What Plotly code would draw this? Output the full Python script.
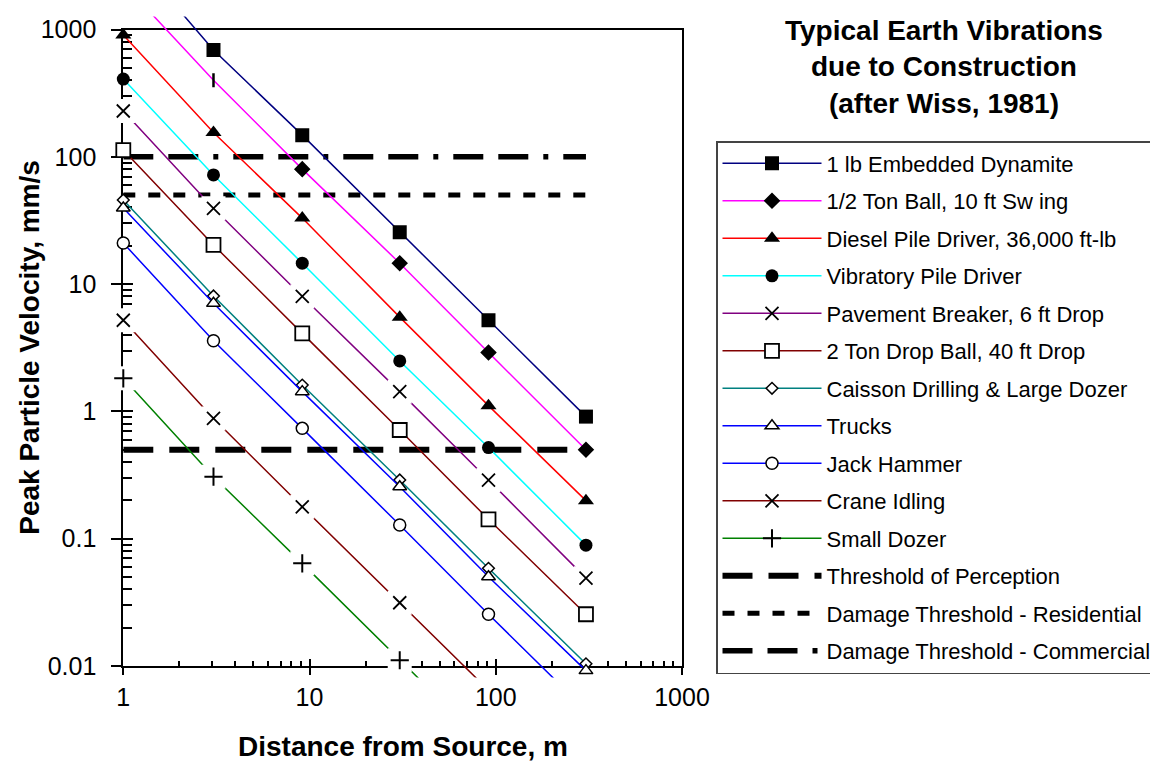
import plotly.graph_objects as go

# ---------------- data ----------------
x_m = [1, 3.05, 9.14, 30.5, 91.4, 305]

v_dynamite = [4600, 690, 148, 25.6, 5.2, 0.91]
v_half_ton = [2300, 400, 80, 14.6, 2.9, 0.5]
v_diesel = [906, 155, 33, 5.5, 1.11, 0.199]
v_vibratory = [408, 72, 14.6, 2.49, 0.52, 0.089]
v_pavement = [229, 39.4, 8.0, 1.43, 0.289, 0.049]
v_two_ton = [113, 20.3, 4.1, 0.714, 0.142, 0.0255]
v_caisson = [45.8, 8.07, 1.61, 0.289, 0.0585, 0.0104]
v_trucks = [39.6, 7.06, 1.43, 0.256, 0.0503, 0.0092]
v_jack = [21, 3.59, 0.736, 0.128, 0.0255, 0.0045]
v_crane = [5.2, 0.88, 0.178, 0.0314, 0.0065, 0.00114]
v_dozer = [1.82, 0.307, 0.064, 0.0111, 0.00224, 0.0004]

series_names = [
    "1 lb Embedded Dynamite",
    "1/2 Ton Ball, 10 ft Sw ing",
    "Diesel Pile Driver, 36,000 ft-lb",
    "Vibratory Pile Driver",
    "Pavement Breaker, 6 ft Drop",
    "2 Ton Drop Ball, 40 ft Drop",
    "Caisson Drilling & Large Dozer",
    "Trucks",
    "Jack Hammer",
    "Crane Idling",
    "Small Dozer",
]
series_values = [v_dynamite, v_half_ton, v_diesel, v_vibratory, v_pavement,
                 v_two_ton, v_caisson, v_trucks, v_jack, v_crane, v_dozer]

threshold_names = ["Threshold of Perception",
                   "Damage Threshold - Residential",
                   "Damage Threshold - Commercial"]
threshold_values = [0.5, 50, 100]
threshold_x = [1, 305]

x_tick_vals = [1, 10, 100, 1000]
x_tick_text = ["1", "10", "100", "1000"]
y_tick_vals = [0.01, 0.1, 1, 10, 100, 1000]
y_tick_text = ["0.01", "0.1", "1", "10", "100", "1000"]

# ---------------- styles ----------------
W, H = 1158, 761
OFF = 8  # page body margin
FONT = "Arial, Liberation Sans, sans-serif"

line_colors = ["#000080", "#FF00FF", "#FF0000", "#00FFFF", "#800080", "#800000",
               "#008080", "#0000FF", "#0000FF", "#800000", "#008000"]
sym = ["square", ["diamond", "line-ns", "diamond", "diamond", "diamond", "diamond"],
       "triangle-up", "circle", "x-thin", "square", "diamond", "triangle-up",
       "circle", "x-thin", "cross-thin"]
fill = ["black", "black", "black", "black", "black", "white", "white", "white",
        "white", "black", "black"]
msize = [14, 10, 14, 13, 13, 14, 9, 12, 12, 13, 13]
mlw = [0, 2.5, 0, 0, 1.8, 1.8, 1.5, 1.5, 1.5, 1.8, 2]
knockout = [False, False, False, False, True, False, False, False, False, True, True]

th_dash = ["30px,16px", "12px,13px", "30px,15px,30px,15px,5px,15px"]
th_width = [6, 5, 5.5]


def px_x(p):
    return (p - OFF) / W


def px_y(p):
    return 1 - (p - OFF) / H


# visible axes frame (target screenshot pixels)
X0, X1 = 123.3, 682.0     # x = 1 .. 1000
YT, YB = 29.5, 666.0      # y = 1000 .. 0.01
dec_x = (X1 - X0) / 3
dec_y = (YB - YT) / 5
# data clip region (pixels)
CX0, CX1 = 105.0, 700.0
CYT, CYB = 16.5, 677.5

fig = go.Figure()

# series
for i, (name, vals) in enumerate(zip(series_names, series_values)):
    mk = dict(symbol=sym[i], size=msize[i], color=fill[i],
              line=dict(color="black", width=mlw[i]))
    fig.add_trace(go.Scatter(
        x=x_m, y=vals, mode="lines+markers", name=name, legendgroup=name,
        xaxis="x2", yaxis="y2", line=dict(color=line_colors[i], width=1.5),
        marker=mk, hoverinfo="skip"))

# white knock-out boxes behind x / + markers, then redraw markers
for i, (name, vals) in enumerate(zip(series_names, series_values)):
    if knockout[i]:
        fig.add_trace(go.Scatter(
            x=x_m, y=vals, mode="markers", legendgroup=name, showlegend=False,
            xaxis="x2", yaxis="y2", hoverinfo="skip",
            marker=dict(symbol="square", size=24, color="white", line=dict(width=0))))
        fig.add_trace(go.Scatter(
            x=x_m, y=vals, mode="markers", legendgroup=name, showlegend=False,
            xaxis="x2", yaxis="y2", hoverinfo="skip",
            marker=dict(symbol=sym[i], size=msize[i], color=fill[i],
                        line=dict(color="black", width=mlw[i]))))

for name, val, dash, w in zip(threshold_names, threshold_values, th_dash, th_width):
    fig.add_trace(go.Scatter(
        x=threshold_x, y=[val, val], mode="lines", name=name, legendgroup=name,
        xaxis="x", yaxis="y", hoverinfo="skip",
        line=dict(color="black", width=w, dash=dash)))

# dummy traces so overlay tick axes are drawn
fig.add_trace(go.Scatter(x=[None], y=[None], xaxis="x3", yaxis="y", showlegend=False, hoverinfo="skip"))
fig.add_trace(go.Scatter(x=[None], y=[None], xaxis="x", yaxis="y3", showlegend=False, hoverinfo="skip"))

minor_x = [m * 10 ** d for d in range(0, 3) for m in range(2, 10)]
minor_y = [m * 10 ** d for d in range(-2, 3) for m in range(2, 10)]

x_dom = [px_x(X0), px_x(X1)]
y_dom = [px_y(YB), px_y(YT)]

tickfont = dict(family=FONT, size=25, color="black")

fig.update_layout(
    template="none",
    width=W, height=H, margin=dict(l=0, r=0, t=0, b=0, pad=0, autoexpand=False),
    paper_bgcolor="white", plot_bgcolor="rgba(0,0,0,0)",
    showlegend=True, hovermode=False,
    xaxis=dict(type="log", domain=x_dom, range=[0, 3], anchor="y", automargin=False,
               tickmode="array", tickvals=x_tick_vals, ticktext=x_tick_text,
               ticks="outside", ticklen=7, tickwidth=2, tickcolor="black",
               showline=True, linecolor="black", linewidth=2, mirror=True,
               showgrid=False, zeroline=False, tickfont=tickfont,
               ticklabelstandoff=1, layer="below traces",
               minor=dict(tickmode="array", tickvals=minor_x, ticks="inside",
                          ticklen=5, tickwidth=1.5, tickcolor="black", showgrid=False)),
    yaxis=dict(type="log", domain=y_dom, range=[-2, 3], anchor="x", automargin=False,
               tickmode="array", tickvals=y_tick_vals, ticktext=y_tick_text,
               ticks="outside", ticklen=10, tickwidth=2, tickcolor="black",
               showline=True, linecolor="black", linewidth=2, mirror=True,
               showgrid=False, zeroline=False, tickfont=tickfont,
               ticklabelstandoff=10, layer="below traces",
               minor=dict(tickmode="array", tickvals=minor_y, ticks="inside",
                          ticklen=8.5, tickwidth=1.5, tickcolor="black", showgrid=False)),
    xaxis3=dict(type="log", overlaying="x", range=[0, 3], anchor="y", automargin=False,
                tickmode="array", tickvals=x_tick_vals, ticks="inside", ticklen=7,
                tickwidth=2, tickcolor="black", showticklabels=False,
                showline=False, showgrid=False, zeroline=False, layer="below traces"),
    yaxis3=dict(type="log", overlaying="y", range=[-2, 3], anchor="x", side="left",
                automargin=False,
                tickmode="array", tickvals=y_tick_vals, ticks="inside", ticklen=10,
                tickwidth=2, tickcolor="black", showticklabels=False,
                showline=False, showgrid=False, zeroline=False, layer="below traces"),
    xaxis2=dict(type="log", domain=[px_x(CX0), px_x(CX1)], automargin=False,
                range=[-(X0 - CX0) / dec_x, 3 + (CX1 - X1) / dec_x],
                anchor="y2", visible=False, showgrid=False, zeroline=False),
    yaxis2=dict(type="log", domain=[px_y(CYB), px_y(CYT)], automargin=False,
                range=[-2 - (CYB - YB) / dec_y, 3 + (YT - CYT) / dec_y],
                anchor="x2", visible=False, showgrid=False, zeroline=False),
    legend=dict(x=px_x(716), y=px_y(141), xanchor="left", yanchor="top",
                bordercolor="#444444", borderwidth=1.5, bgcolor="white",
                font=dict(family=FONT, size=22, color="black"),
                tracegroupgap=5.9, traceorder="grouped", itemwidth=99),
)

fig.add_annotation(
    text="<b>Typical Earth Vibrations<br>due to Construction<br>(after Wiss, 1981)</b>",
    xref="paper", yref="paper", x=px_x(944), y=px_y(67), xanchor="center", yanchor="middle",
    showarrow=False, align="center", font=dict(family=FONT, size=28, color="black"))
fig.add_annotation(
    text="<b>Peak Particle Velocity, mm/s</b>", textangle=-90,
    xref="paper", yref="paper", x=px_x(30), y=px_y((YT + YB) / 2),
    xanchor="center", yanchor="middle", showarrow=False,
    font=dict(family=FONT, size=28, color="black"))
fig.add_annotation(
    text="<b>Distance from Source, m</b>",
    xref="paper", yref="paper", x=px_x((X0 + X1) / 2), y=px_y(746),
    xanchor="center", yanchor="middle", showarrow=False,
    font=dict(family=FONT, size=28, color="black"))

fig.write_html("out.html")
